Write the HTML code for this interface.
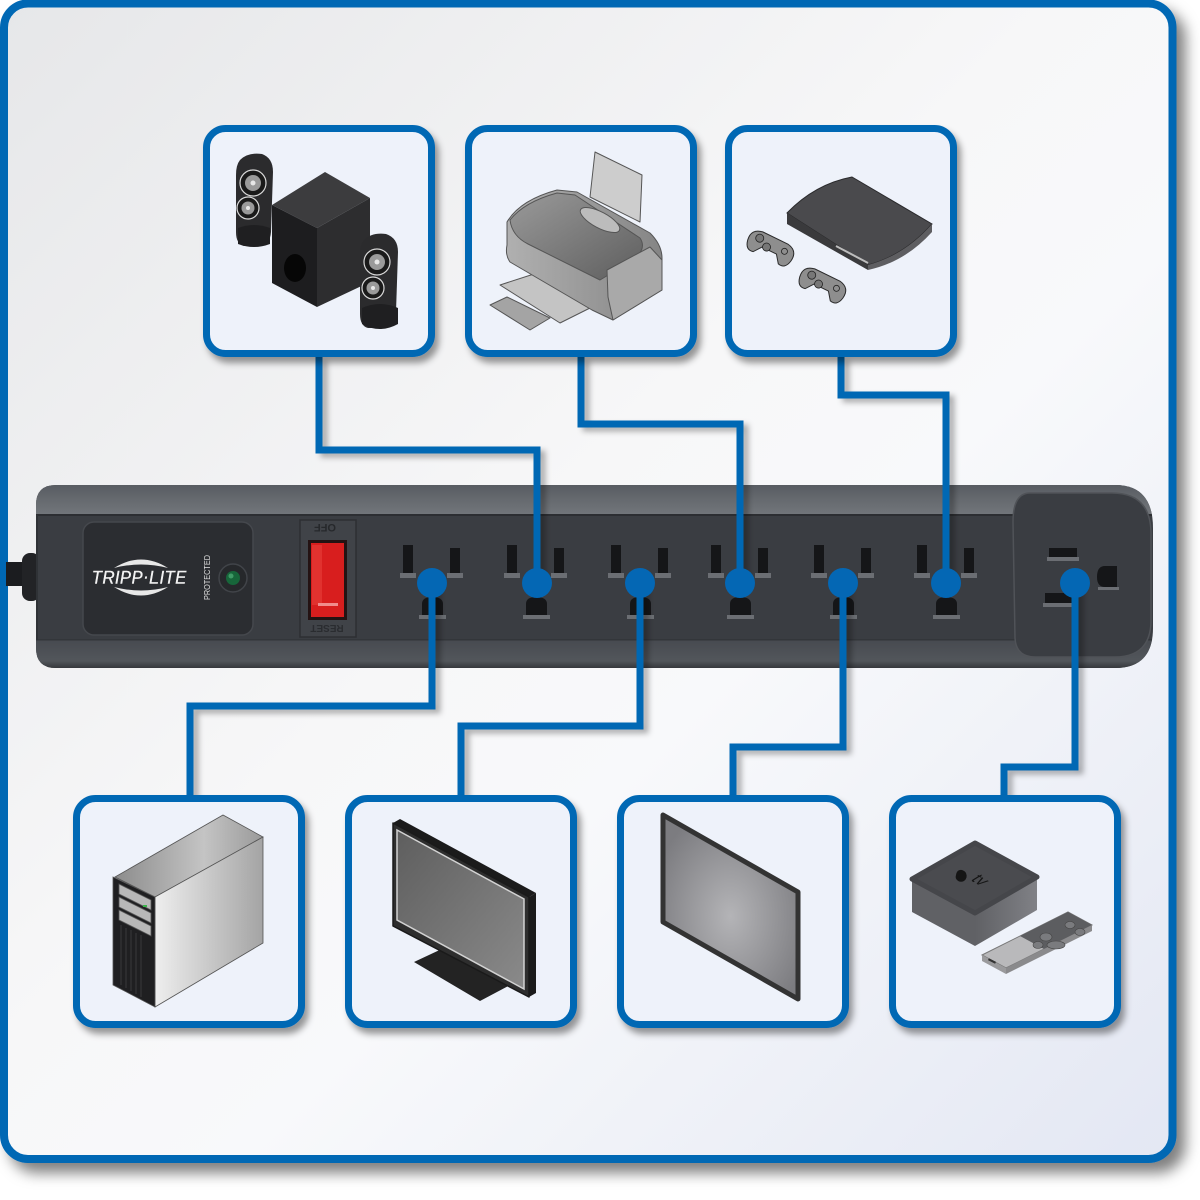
<!DOCTYPE html>
<html>
<head>
<meta charset="utf-8">
<style>
  html, body { margin:0; padding:0; background:#ffffff; }
  svg { display:block; font-family:"Liberation Sans", sans-serif; }
</style>
</head>
<body>
<svg width="1200" height="1200" viewBox="0 0 1200 1200" xmlns="http://www.w3.org/2000/svg">
  <defs>
    <linearGradient id="bg" x1="0" y1="0" x2="1" y2="1">
      <stop offset="0" stop-color="#e6e7e9"/>
      <stop offset="0.45" stop-color="#f7f7f8"/>
      <stop offset="0.6" stop-color="#f8f9fb"/>
      <stop offset="1" stop-color="#e3e7f3"/>
    </linearGradient>
    <filter id="fshadow" x="-5%" y="-5%" width="115%" height="115%">
      <feDropShadow dx="9" dy="10" stdDeviation="7" flood-color="#000" flood-opacity="0.5"/>
    </filter>
    <filter id="bshadow" x="-10%" y="-10%" width="130%" height="130%">
      <feDropShadow dx="4" dy="6" stdDeviation="3.5" flood-color="#000" flood-opacity="0.4"/>
    </filter>
    <filter id="lshadow" x="-10%" y="-10%" width="130%" height="130%">
      <feDropShadow dx="5" dy="4" stdDeviation="3" flood-color="#000" flood-opacity="0.3"/>
    </filter>
    <linearGradient id="topband" x1="0" y1="0" x2="0" y2="1">
      <stop offset="0" stop-color="#53575d"/>
      <stop offset="0.5" stop-color="#64686d"/>
      <stop offset="1" stop-color="#72767b"/>
    </linearGradient>
    <linearGradient id="botband" x1="0" y1="0" x2="0" y2="1">
      <stop offset="0" stop-color="#474a50"/>
      <stop offset="0.7" stop-color="#52565b"/>
      <stop offset="1" stop-color="#2e3034"/>
    </linearGradient>
    <linearGradient id="silver" x1="0" y1="0" x2="1" y2="0">
      <stop offset="0" stop-color="#eeeeee"/>
      <stop offset="1" stop-color="#a4a4a4"/>
    </linearGradient>
    <linearGradient id="pctop" x1="0" y1="0" x2="1" y2="0">
      <stop offset="0" stop-color="#8c8c8c"/>
      <stop offset="0.6" stop-color="#c4c4c4"/>
      <stop offset="1" stop-color="#9a9a9a"/>
    </linearGradient>
    <linearGradient id="scr" x1="0" y1="0" x2="1" y2="1">
      <stop offset="0" stop-color="#5e5e5e"/>
      <stop offset="1" stop-color="#8a8a8a"/>
    </linearGradient>
    <radialGradient id="tab" cx="0.5" cy="0.55" r="0.6">
      <stop offset="0" stop-color="#b4b4b7"/>
      <stop offset="1" stop-color="#7c7c80"/>
    </radialGradient>
    <linearGradient id="prn" x1="0" y1="0" x2="1" y2="0">
      <stop offset="0" stop-color="#b0b0b0"/>
      <stop offset="1" stop-color="#858585"/>
    </linearGradient>
    <linearGradient id="prntop" x1="0" y1="0" x2="1" y2="1">
      <stop offset="0" stop-color="#9a9a9a"/>
      <stop offset="1" stop-color="#5e5e5e"/>
    </linearGradient>
    <linearGradient id="atvside" x1="0" y1="0" x2="1" y2="0">
      <stop offset="0" stop-color="#606165"/>
      <stop offset="1" stop-color="#808186"/>
    </linearGradient>
    <clipPath id="stripclip">
      <path d="M56 485 H1115 Q1153 485 1153 528 V628 Q1153 668 1115 668 H56 Q36 668 36 648 V505 Q36 485 56 485 Z"/>
    </clipPath>
  </defs>

  <rect x="0" y="0" width="1200" height="1200" fill="#ffffff"/>

  <rect x="4" y="3.5" width="1168.5" height="1155.5" rx="24" ry="24" fill="url(#bg)" stroke="#0467b4" stroke-width="8" filter="url(#fshadow)"/>

  <!-- power cord -->
  <rect x="6" y="562" width="30" height="24" fill="#1b1c1f"/>
  <rect x="22" y="553" width="18" height="48" rx="8" fill="#222326"/>

  <!-- power strip -->
  <g clip-path="url(#stripclip)">
    <rect x="30" y="480" width="1130" height="195" fill="#3a3d42"/>
    <rect x="30" y="480" width="1130" height="35" fill="url(#topband)"/>
    <rect x="30" y="514" width="1130" height="2" fill="#2c2e32"/>
    <rect x="30" y="640" width="1130" height="30" fill="url(#botband)"/>
    <rect x="30" y="639" width="1130" height="1.5" fill="#33363a"/>
    <rect x="30" y="515" width="8" height="125" fill="#2f3236"/>
  </g>
  <path d="M1030 493 H1112 Q1150 493 1151 532 V622 Q1150 657 1115 657 H1035 Q1016 657 1015 638 L1013 522 Q1013 493 1030 493 Z" fill="#3a3d42" stroke="#505358" stroke-width="1.5"/>

  <!-- logo panel -->
  <rect x="83" y="522" width="170" height="113" rx="11" fill="#2b2d31" stroke="#45484d" stroke-width="1.5"/>
  <path d="M114 568 Q141 551 168 568 Q141 561 114 568 Z" fill="#e8e8e8"/>
  <path d="M114 587 Q141 604 168 587 Q141 594 114 587 Z" fill="#e8e8e8"/>
  <text x="139" y="584" text-anchor="middle" font-size="19" font-weight="bold" font-style="italic" fill="#f2f2f2" stroke="#2b2d31" stroke-width="0.6" textLength="95" lengthAdjust="spacingAndGlyphs">TRIPP·LITE</text>
  <text x="0" y="0" transform="translate(210,600) rotate(-90)" font-size="8" fill="#e0e0e0" textLength="45" lengthAdjust="spacingAndGlyphs">PROTECTED</text>
  <circle cx="233" cy="578" r="14" fill="#26282b" stroke="#414449" stroke-width="1.5"/>
  <circle cx="233" cy="578" r="7" fill="#17663a"/>
  <circle cx="231" cy="576" r="2.5" fill="#3f9a66"/>

  <!-- switch -->
  <rect x="300" y="520" width="56" height="117" fill="#404348" stroke="#2d2f33" stroke-width="1.5"/>
  <text x="0" y="0" transform="translate(325,524) rotate(180)" text-anchor="middle" font-size="11" font-weight="bold" fill="#26282b">OFF</text>
  <text x="0" y="0" transform="translate(327,625) rotate(180)" text-anchor="middle" font-size="10" font-weight="bold" fill="#2a2c30">RESET</text>
  <rect x="308" y="540" width="39" height="80" fill="#241313"/>
  <rect x="311" y="543" width="33" height="74" fill="#d81e1e"/>
  <rect x="312" y="545" width="10" height="60" fill="#e8403a" opacity="0.6"/>
  <rect x="318" y="603" width="20" height="3" fill="#f08c8c"/>

  <!-- outlets -->
  <g>
    <g transform="translate(432,0)">
      <rect x="-29" y="545" width="10" height="28" fill="#151618"/><rect x="-32" y="573" width="16" height="5" fill="#6b6e73"/>
      <rect x="18" y="548" width="10" height="25" fill="#151618"/><rect x="15" y="573" width="16" height="5" fill="#6b6e73"/>
      <path d="M-10 615 V604 Q-10 597 0 597 Q11 597 11 604 V615 Z" fill="#151618"/><rect x="-13" y="615" width="27" height="4" fill="#6b6e73"/>
    </g>
    <g transform="translate(536,0)">
      <rect x="-29" y="545" width="10" height="28" fill="#151618"/><rect x="-32" y="573" width="16" height="5" fill="#6b6e73"/>
      <rect x="18" y="548" width="10" height="25" fill="#151618"/><rect x="15" y="573" width="16" height="5" fill="#6b6e73"/>
      <path d="M-10 615 V604 Q-10 597 0 597 Q11 597 11 604 V615 Z" fill="#151618"/><rect x="-13" y="615" width="27" height="4" fill="#6b6e73"/>
    </g>
    <g transform="translate(640,0)">
      <rect x="-29" y="545" width="10" height="28" fill="#151618"/><rect x="-32" y="573" width="16" height="5" fill="#6b6e73"/>
      <rect x="18" y="548" width="10" height="25" fill="#151618"/><rect x="15" y="573" width="16" height="5" fill="#6b6e73"/>
      <path d="M-10 615 V604 Q-10 597 0 597 Q11 597 11 604 V615 Z" fill="#151618"/><rect x="-13" y="615" width="27" height="4" fill="#6b6e73"/>
    </g>
    <g transform="translate(740,0)">
      <rect x="-29" y="545" width="10" height="28" fill="#151618"/><rect x="-32" y="573" width="16" height="5" fill="#6b6e73"/>
      <rect x="18" y="548" width="10" height="25" fill="#151618"/><rect x="15" y="573" width="16" height="5" fill="#6b6e73"/>
      <path d="M-10 615 V604 Q-10 597 0 597 Q11 597 11 604 V615 Z" fill="#151618"/><rect x="-13" y="615" width="27" height="4" fill="#6b6e73"/>
    </g>
    <g transform="translate(843,0)">
      <rect x="-29" y="545" width="10" height="28" fill="#151618"/><rect x="-32" y="573" width="16" height="5" fill="#6b6e73"/>
      <rect x="18" y="548" width="10" height="25" fill="#151618"/><rect x="15" y="573" width="16" height="5" fill="#6b6e73"/>
      <path d="M-10 615 V604 Q-10 597 0 597 Q11 597 11 604 V615 Z" fill="#151618"/><rect x="-13" y="615" width="27" height="4" fill="#6b6e73"/>
    </g>
    <g transform="translate(946,0)">
      <rect x="-29" y="545" width="10" height="28" fill="#151618"/><rect x="-32" y="573" width="16" height="5" fill="#6b6e73"/>
      <rect x="18" y="548" width="10" height="25" fill="#151618"/><rect x="15" y="573" width="16" height="5" fill="#6b6e73"/>
      <path d="M-10 615 V604 Q-10 597 0 597 Q11 597 11 604 V615 Z" fill="#151618"/><rect x="-13" y="615" width="27" height="4" fill="#6b6e73"/>
    </g>
    <rect x="1049" y="548" width="28" height="9" fill="#151618"/><rect x="1047" y="557" width="32" height="4" fill="#6b6e73"/>
    <rect x="1045" y="593" width="28" height="10" fill="#151618"/><rect x="1043" y="603" width="32" height="4" fill="#6b6e73"/>
    <path d="M1117 566 V587 H1105 Q1097 587 1097 577 Q1097 566 1105 566 Z" fill="#151618"/><rect x="1098" y="587" width="21" height="3" fill="#6b6e73"/>
  </g>

  <!-- connectors -->
  <g filter="url(#lshadow)" fill="none" stroke="#0467b4" stroke-width="7" stroke-linejoin="miter">
    <path d="M319 357 V450 H537 V583"/>
    <path d="M581 357 V424 H740 V583"/>
    <path d="M841 357 V395 H946 V583"/>
    <path d="M432 583 V706 H190 V797"/>
    <path d="M640 583 V726 H461 V797"/>
    <path d="M843 583 V747 H733 V797"/>
    <path d="M1075 583 V767 H1004 V797"/>
  </g>
  <g fill="#0467b4">
    <circle cx="432" cy="583" r="15"/>
    <circle cx="537" cy="583" r="15"/>
    <circle cx="640" cy="583" r="15"/>
    <circle cx="740" cy="583" r="15"/>
    <circle cx="843" cy="583" r="15"/>
    <circle cx="946" cy="583" r="15"/>
    <circle cx="1075" cy="583" r="15"/>
  </g>

  <!-- boxes -->
  <g fill="#eef2fa" stroke="#0467b4" stroke-width="7" filter="url(#bshadow)">
    <rect x="206.5" y="128.5" width="225" height="225" rx="19"/>
    <rect x="468.5" y="128.5" width="225" height="225" rx="19"/>
    <rect x="728.5" y="128.5" width="225" height="225" rx="19"/>
    <rect x="76.5" y="798.5" width="225" height="226" rx="19"/>
    <rect x="348.5" y="798.5" width="225" height="226" rx="19"/>
    <rect x="620.5" y="798.5" width="225" height="226" rx="19"/>
    <rect x="892.5" y="798.5" width="225" height="226" rx="19"/>
  </g>

  <!-- Box1: speakers -->
  <g>
    <path d="M240 160 Q248 152 262 154 Q273 158 273 172 L271 232 Q270 244 262 246 L244 246 Q236 244 236 232 L236 175 Q236 165 240 160 Z" fill="#2b2b2d"/>
    <path d="M238 228 Q254 222 270 228 L270 244 Q254 250 238 244 Z" fill="#1f1f21"/>
    <circle cx="253" cy="183" r="13" fill="#1a1a1a" stroke="#d8d8d8" stroke-width="1.2"/>
    <circle cx="253" cy="183" r="8" fill="#9a9a9a"/>
    <circle cx="253" cy="183" r="2.5" fill="#e8e8e8"/>
    <circle cx="248" cy="208" r="11" fill="#1a1a1a" stroke="#d8d8d8" stroke-width="1.2"/>
    <circle cx="248" cy="208" r="6.5" fill="#9a9a9a"/>
    <circle cx="248" cy="208" r="2" fill="#e8e8e8"/>
    <polygon points="272,205 325,172 370,198 317,228" fill="#3c3c3e"/>
    <polygon points="272,205 317,228 317,307 272,283" fill="#1d1d1f"/>
    <polygon points="317,228 370,198 370,282 317,307" fill="#2d2d2f"/>
    <ellipse cx="295" cy="268" rx="11" ry="14" fill="#060606"/>
    <path d="M364 240 Q372 232 386 234 Q398 238 398 252 L396 312 Q395 326 386 328 L368 328 Q360 326 360 314 L360 255 Q360 245 364 240 Z" fill="#2b2b2d"/>
    <path d="M362 308 Q380 300 398 308 L398 324 Q380 334 362 324 Z" fill="#1f1f21"/>
    <circle cx="377" cy="262" r="13" fill="#1a1a1a" stroke="#d8d8d8" stroke-width="1.2"/>
    <circle cx="377" cy="262" r="8" fill="#9a9a9a"/>
    <circle cx="377" cy="262" r="2.5" fill="#e8e8e8"/>
    <circle cx="373" cy="288" r="11" fill="#1a1a1a" stroke="#d8d8d8" stroke-width="1.2"/>
    <circle cx="373" cy="288" r="6.5" fill="#9a9a9a"/>
    <circle cx="373" cy="288" r="2" fill="#e8e8e8"/>
  </g>

  <!-- Box2: printer -->
  <g stroke="#555" stroke-width="1" stroke-linejoin="round">
    <polygon points="595,152 642,175 640,222 590,197" fill="#cdcdcd"/>
    <polygon points="500,285 537,273 592,307 560,323" fill="#c4c4c4"/>
    <polygon points="490,305 507,297 550,318 530,330" fill="#a4a4a4"/>
    <path d="M507 222 Q520 200 557 190 L577 192 L650 233 Q662 245 662 258 L662 290 L613 320 L592 310 L510 262 Q505 255 507 245 Z" fill="url(#prn)"/>
    <path d="M510 220 Q524 202 557 193 L575 195 L640 238 Q648 250 630 262 L600 280 L528 244 Q512 236 510 220 Z" fill="url(#prntop)"/>
    <ellipse cx="600" cy="220" rx="22" ry="8" transform="rotate(28 600 220)" fill="#bcbcbc"/>
    <polygon points="607,270 650,247 662,260 662,290 613,320 608,297" fill="#a9a9a9"/>
  </g>

  <!-- Box3: PS3 -->
  <g>
    <path d="M787 213 Q815 184 852 177 L932 224 Q905 255 868 265 Z" fill="#4a4a4d" stroke="#2a2a2c" stroke-width="1"/>
    <polygon points="787,213 868,265 868,270 787,224" fill="#3a3a3c"/>
    <path d="M868 265 Q905 255 932 224 L932 232 Q905 262 868 270 Z" fill="#5e5e61"/>
    <line x1="836" y1="246" x2="868" y2="263" stroke="#bdbdbd" stroke-width="2"/>
    <g transform="translate(771,247) rotate(26)">
      <path d="M-24 4 Q-26 -8 -14 -10 L14 -10 Q26 -8 24 4 Q22 14 14 12 L8 4 L-8 4 L-14 12 Q-22 14 -24 4 Z" fill="#8e8e8e" stroke="#2a2a2a" stroke-width="1"/>
      <circle cx="-14" cy="-3" r="4" fill="#777" stroke="#222" stroke-width="0.8"/>
      <circle cx="-4" cy="2" r="4" fill="#777" stroke="#222" stroke-width="0.8"/>
      <circle cx="14" cy="-2" r="3" fill="none" stroke="#222" stroke-width="0.8"/>
    </g>
    <g transform="translate(823,284) rotate(26)">
      <path d="M-24 4 Q-26 -8 -14 -10 L14 -10 Q26 -8 24 4 Q22 14 14 12 L8 4 L-8 4 L-14 12 Q-22 14 -24 4 Z" fill="#8e8e8e" stroke="#2a2a2a" stroke-width="1"/>
      <circle cx="-14" cy="-3" r="4" fill="#777" stroke="#222" stroke-width="0.8"/>
      <circle cx="-4" cy="2" r="4" fill="#777" stroke="#222" stroke-width="0.8"/>
      <circle cx="14" cy="-2" r="3" fill="none" stroke="#222" stroke-width="0.8"/>
    </g>
  </g>

  <!-- Box4: PC tower -->
  <g stroke="#555" stroke-width="0.8">
    <polygon points="115,877 223,815 263,837 155,897" fill="url(#pctop)"/>
    <polygon points="155,897 263,837 263,943 155,1007" fill="url(#silver)"/>
    <polygon points="113,877 155,897 155,1007 113,985" fill="#1f1f21"/>
    <polygon points="119,884 151,900 151,910 119,894" fill="#b8b8b8"/>
    <polygon points="119,897 151,913 151,923 119,907" fill="#b8b8b8"/>
    <polygon points="119,910 151,926 151,936 119,920" fill="#b8b8b8"/>
    <g stroke="#3a3a3c" stroke-width="1">
      <line x1="121" y1="925" x2="121" y2="985"/>
      <line x1="126" y1="928" x2="126" y2="988"/>
      <line x1="131" y1="930" x2="131" y2="991"/>
      <line x1="136" y1="933" x2="136" y2="994"/>
      <line x1="141" y1="935" x2="141" y2="997"/>
    </g>
    <rect x="143" y="905" width="4" height="2" fill="#3bb34a" stroke="none"/>
  </g>

  <!-- Box5: monitor -->
  <g>
    <polygon points="414,962 446,947 512,984 480,1001" fill="#232323"/>
    <polygon points="393,823 400,819 536,893 529,897" fill="#1b1b1b"/>
    <polygon points="529,897 536,893 536,993 529,997" fill="#1b1b1b"/>
    <polygon points="393,823 529,897 529,997 393,926" fill="#2e2e2e" stroke="#1a1a1a" stroke-width="1.5" stroke-linejoin="round"/>
    <polygon points="397,830 524,899 524,989 397,920" fill="url(#scr)" stroke="#d2d2d2" stroke-width="1.5"/>
  </g>

  <!-- Box6: tablet -->
  <g>
    <polygon points="663,815 798,892 798,999 663,922" fill="url(#tab)" stroke="#333" stroke-width="5" stroke-linejoin="round"/>
  </g>

  <!-- Box7: Apple TV -->
  <g>
    <polygon points="912,879 975,913 975,946 912,912" fill="#606165"/>
    <polygon points="975,913 1037,877 1037,910 975,946" fill="url(#atvside)"/>
    <polygon points="912,879 975,843 1037,877 975,913" fill="#4a4b4f" stroke="#45464a" stroke-width="5" stroke-linejoin="round"/>
    <path d="M956 875 Q957 869 962 870 Q965 871 966 873 Q968 878 964 881 Q960 883 957 880 Q955 878 956 875 Z" fill="#151515"/>
    <text x="0" y="0" transform="translate(970,880) rotate(30) skewX(-28)" font-size="16" fill="#151515">tv</text>
    <polygon points="982,955 1068,912 1092,925 1006,968" fill="#b9b9bb" stroke="#777" stroke-width="1"/>
    <polygon points="1020,936 1068,912 1092,925 1044,949" fill="#5c5d60"/>
    <polygon points="982,955 1006,968 1006,974 982,961" fill="#9a9a9c"/>
    <polygon points="1006,968 1092,925 1092,931 1006,974" fill="#8a8a8c"/>
    <ellipse cx="1046" cy="937" rx="6" ry="4" fill="#7a7b7e" stroke="#444" stroke-width="0.6"/>
    <ellipse cx="1056" cy="945" rx="9" ry="4" fill="#7a7b7e" stroke="#444" stroke-width="0.6"/>
    <ellipse cx="1038" cy="945" rx="5" ry="3.5" fill="#7a7b7e" stroke="#444" stroke-width="0.6"/>
    <ellipse cx="1070" cy="925" rx="5" ry="3.5" fill="#7a7b7e" stroke="#444" stroke-width="0.6"/>
    <ellipse cx="1080" cy="932" rx="5" ry="3.5" fill="#7a7b7e" stroke="#444" stroke-width="0.6"/>
    <rect x="988" y="960" width="8" height="2" fill="#333" transform="rotate(27 992 961)"/>
  </g>
</svg>
</body>
</html>
